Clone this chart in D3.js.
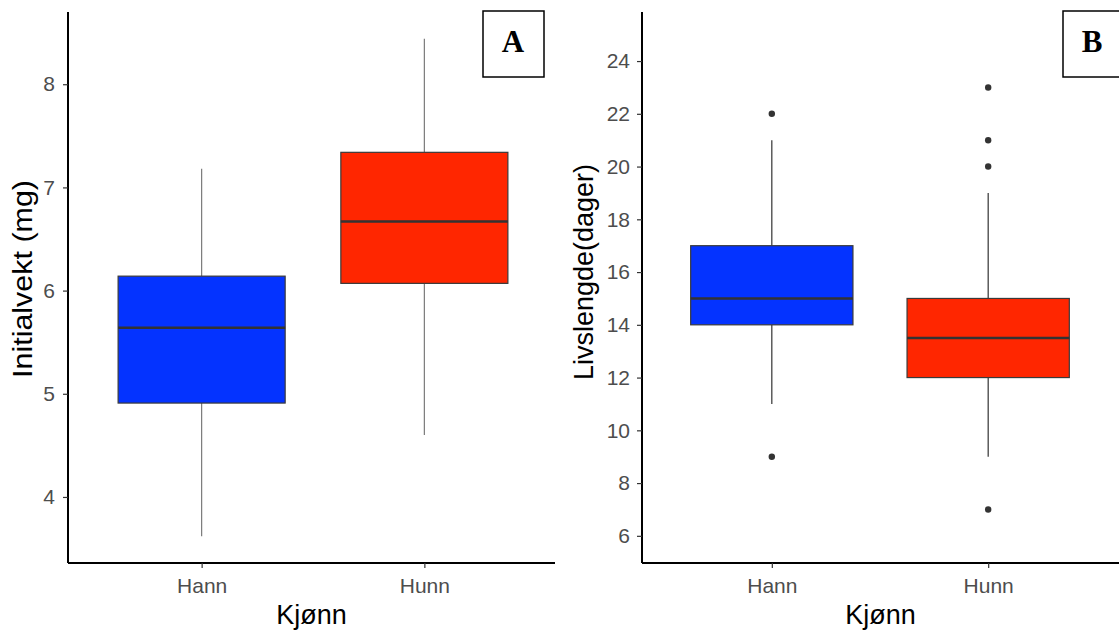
<!DOCTYPE html>
<html>
<head>
<meta charset="utf-8">
<script src="https://cdn.jsdelivr.net/npm/d3@7"></script>
<style>
  body { margin: 0; background: #fff; }
  svg { display: block; font-family: "Liberation Sans", Arial, sans-serif; }
</style>
</head>
<body>
<div id="chart"></div>
<script>
// groups on the x axis
const kjonn = ["Hann", "Hunn"];
const fills = ["#0433FF", "#FF2600"];

// panel A: initial weight (mg)
const vektLow = [3.62, 4.60];
const vektQ1 = [4.91, 6.07];
const vektMed = [5.64, 6.67];
const vektQ3 = [6.14, 7.34];
const vektHigh = [7.18, 8.44];
const vektOut = [[], []];
const vektTicks = [4, 5, 6, 7, 8];

// panel B: lifespan (days)
const livLow = [11, 9];
const livQ1 = [14, 12];
const livMed = [15, 13.5];
const livQ3 = [17, 15];
const livHigh = [21, 19];
const livOut = [[22, 9], [23, 21, 20, 7]];
const livTicks = [6, 8, 10, 12, 14, 16, 18, 20, 22, 24];

const svg = d3.select("#chart").append("svg")
    .attr("width", 1119)
    .attr("height", 630);

function panel(opt) {
    const g = svg.append("g");

    // ggplot style: categories at 1 and 2, limits 0.4..2.6
    const xl = d3.scaleLinear().domain([0.4, 2.6]).range([opt.x0, opt.x1]);
    const cx = i => xl(i + 1);
    const boxW = xl(0.75) - xl(0);

    const y = d3.scaleLinear().domain(opt.yDomain).range([opt.y1, opt.y0]);

    const rows = kjonn.map((k, i) => ({
        k, i,
        low: opt.low[i], q1: opt.q1[i], med: opt.med[i], q3: opt.q3[i], high: opt.high[i],
        out: opt.out[i]
    }));

    // whiskers
    g.selectAll(".wup").data(rows).join("line")
        .attr("x1", d => cx(d.i)).attr("x2", d => cx(d.i))
        .attr("y1", d => y(d.q3)).attr("y2", d => y(d.high))
        .attr("stroke", opt.whisker).attr("stroke-width", 1.2);
    g.selectAll(".wdn").data(rows).join("line")
        .attr("x1", d => cx(d.i)).attr("x2", d => cx(d.i))
        .attr("y1", d => y(d.q1)).attr("y2", d => y(d.low))
        .attr("stroke", opt.whisker).attr("stroke-width", 1.2);

    // boxes
    g.selectAll(".box").data(rows).join("rect")
        .attr("x", d => cx(d.i) - boxW / 2)
        .attr("width", boxW)
        .attr("y", d => y(d.q3))
        .attr("height", d => y(d.q1) - y(d.q3))
        .attr("fill", d => fills[d.i])
        .attr("stroke", "#3a3a3a").attr("stroke-width", 1.2);

    // medians
    g.selectAll(".med").data(rows).join("line")
        .attr("x1", d => cx(d.i) - boxW / 2).attr("x2", d => cx(d.i) + boxW / 2)
        .attr("y1", d => y(d.med)).attr("y2", d => y(d.med))
        .attr("stroke", "#333333").attr("stroke-width", 2.4);

    // outliers
    const pts = rows.flatMap(d => d.out.map(v => ({ i: d.i, v })));
    g.selectAll(".out").data(pts).join("circle")
        .attr("cx", d => cx(d.i)).attr("cy", d => y(d.v))
        .attr("r", 3.2).attr("fill", "#333333");

    // y axis
    const ya = g.append("g").attr("transform", `translate(${opt.x0},0)`)
        .call(d3.axisLeft(y).tickValues(opt.ticks).tickSize(5).tickPadding(opt.yPad).tickFormat(d3.format("d")));
    ya.select(".domain").attr("stroke", "#000").attr("stroke-width", 2)
        .attr("d", `M0,${opt.y0}V${opt.y1}`);
    ya.selectAll(".tick line").attr("stroke", "#333").attr("stroke-width", 1.2);
    ya.selectAll(".tick text").attr("fill", "#4d4d4d").style("font-size", "21px");

    // x axis
    const xa = g.append("g").attr("transform", `translate(0,${opt.y1})`)
        .call(d3.axisBottom(xl).tickValues([1, 2]).tickSize(5).tickPadding(10).tickFormat(d => kjonn[d - 1]));
    xa.select(".domain").attr("stroke", "#000").attr("stroke-width", 2)
        .attr("d", `M${opt.x0},0H${opt.xEnd}`);
    xa.selectAll(".tick line").attr("stroke", "#333").attr("stroke-width", 1.2);
    xa.selectAll(".tick text").attr("fill", "#4d4d4d").style("font-size", "21px");

    // titles
    g.append("text")
        .attr("x", (opt.x0 + opt.xEnd) / 2).attr("y", 624)
        .attr("text-anchor", "middle")
        .style("font-size", "27px").attr("fill", "#000")
        .text("Kjønn");
    const yt = g.append("text")
        .attr("transform", `translate(${opt.titleX},${opt.titleY}) rotate(-90)`)
        .attr("text-anchor", "middle")
        .style("font-size", "27px").attr("fill", "#000")
        .text(opt.yTitle);
    if (opt.titleLen) yt.attr("textLength", opt.titleLen).attr("lengthAdjust", "spacingAndGlyphs");

    // panel label box
    g.append("rect")
        .attr("x", opt.lab[0]).attr("y", 11)
        .attr("width", opt.lab[1]).attr("height", 66)
        .attr("fill", "#fff").attr("stroke", "#000").attr("stroke-width", 1.5);
    g.append("text")
        .attr("x", opt.lab[2]).attr("y", 52)
        .attr("text-anchor", "middle")
        .style("font-family", "'Liberation Serif', 'Times New Roman', serif")
        .style("font-weight", "bold").style("font-size", "31px")
        .text(opt.label);
}

panel({
    x0: 68, x1: 558, xEnd: 555, y0: 12, y1: 563,
    yDomain: [3.36, 8.70],
    low: vektLow, q1: vektQ1, med: vektMed, q3: vektQ3, high: vektHigh, out: vektOut,
    ticks: vektTicks, whisker: "#7a7a7a", yPad: 8,
    yTitle: "Initialvekt (mg)", titleX: 32, titleY: 279, titleLen: 198,
    lab: [483, 61, 513], label: "A"
});

panel({
    x0: 642, x1: 1118, xEnd: 1119, y0: 12, y1: 563,
    yDomain: [4.97, 25.86],
    low: livLow, q1: livQ1, med: livMed, q3: livQ3, high: livHigh, out: livOut,
    ticks: livTicks, whisker: "#333333", yPad: 7,
    yTitle: "Livslengde(dager)", titleX: 593, titleY: 272,
    lab: [1063, 58, 1092], label: "B"
});
</script>
</body>
</html>
